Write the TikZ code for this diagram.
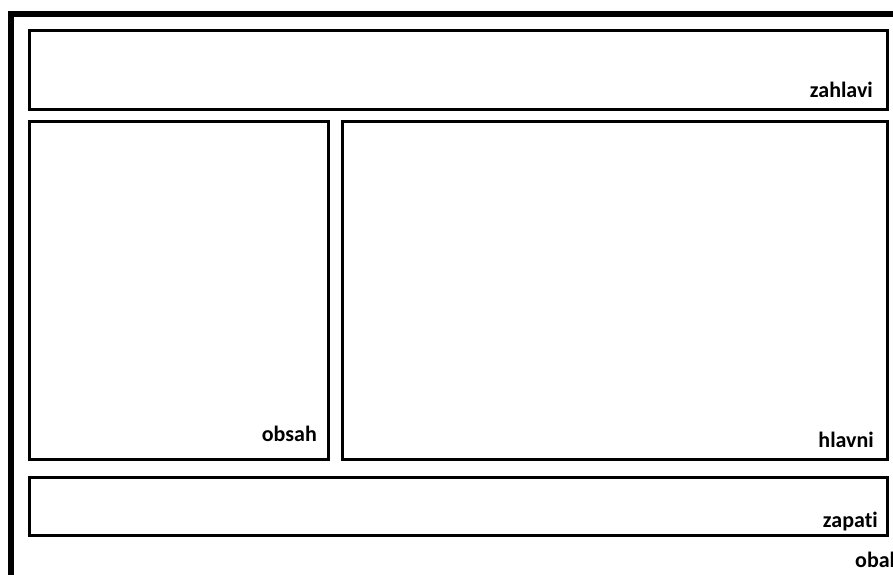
\documentclass[tikz,border=0pt]{standalone}
\usepackage{fontspec}
\setmainfont{Carlito}[Ligatures=NoCommon]
\begin{document}
\begin{tikzpicture}[
  x=1pt, y=-1pt,
  box/.style={draw, line width=3pt, rectangle, anchor=north west, inner sep=0pt, outer sep=0pt},
  lbl/.style={inner sep=0pt, anchor=base east, font=\fontsize{22}{22}\selectfont\bfseries}
]
\useasboundingbox (0,0) rectangle (893,574);
\clip (0,0) rectangle (893,574);

% outer wrapper
\node[box, line width=6pt, minimum width=900pt, minimum height=580pt] (obal) at (11,14) {};

% header, sidebar, main, footer
\node[box, minimum width=858.5pt, minimum height=78.5pt] (zahlavi) at (29,30.5) {};
\node[box, minimum width=299.5pt, minimum height=337.5pt] (obsah) at (29,121.5) {};
\node[box, minimum width=545.5pt, minimum height=337.5pt] (hlavni) at (342,121.5) {};
\node[box, minimum width=858.5pt, minimum height=58pt] (zapati) at (29,477.5) {};

\node[lbl] (zahlaviText) at ([xshift=-14.5pt,yshift=12pt]zahlavi.south east) {zahlavi};
\node[lbl] (obsahText) at ([xshift=-11.5pt,yshift=18pt]obsah.south east) {obsah};
\node[lbl] (hlavniText) at ([xshift=-13.5pt,yshift=12pt]hlavni.south east) {hlavni};
\node[lbl] (zapatiText) at ([xshift=-9.5pt,yshift=8.5pt]zapati.south east) {zapati};
\node[lbl, anchor=base west] (obalText) at (855,567) {obal};

\end{tikzpicture}
\end{document}
